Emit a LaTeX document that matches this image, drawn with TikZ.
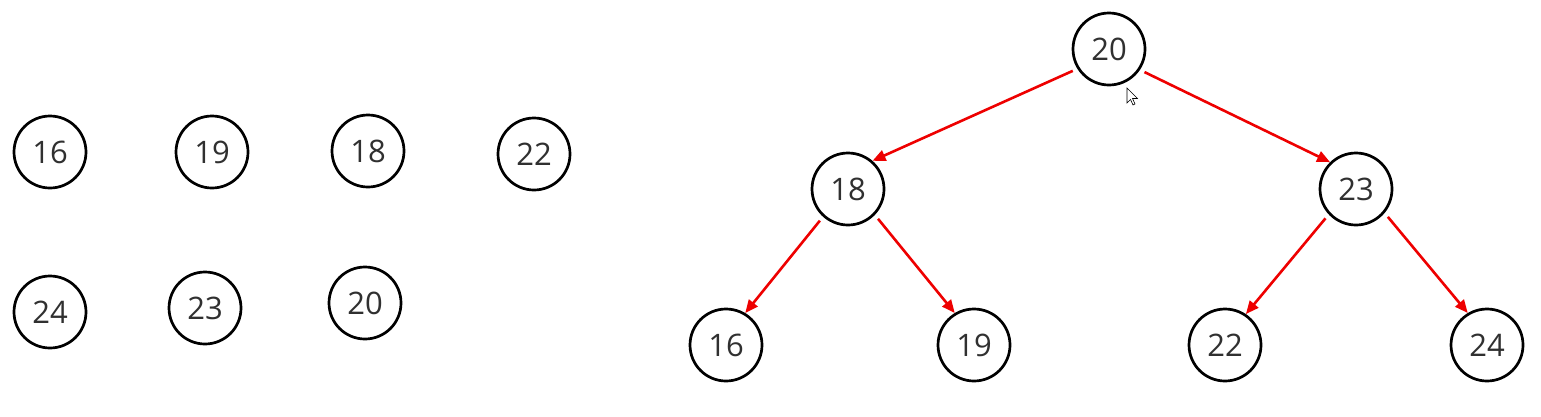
\documentclass[tikz,border=0pt]{standalone}
\usepackage{fontspec}
\setmainfont{Open Sans}
\usetikzlibrary{arrows.meta}
\definecolor{txt}{HTML}{303030}
\definecolor{edgered}{HTML}{EE0000}
\begin{document}
\begin{tikzpicture}[x=1pt,y=-1pt,
  keynode/.style={circle,draw=black,line width=2.7pt,minimum size=72pt,inner sep=0pt,
    text=txt,font=\fontsize{31}{31}\selectfont,fill=white},
  treeedge/.style={draw=edgered,line width=2.6pt,-{Triangle[length=13pt,width=11pt]},
    shorten <=5pt,shorten >=0pt}]
\useasboundingbox (0,0) rectangle (1541,416);
% scattered keys
\node[keynode] (a16) at (50,152) {16};
\node[keynode] (a19) at (212,152) {19};
\node[keynode] (a18) at (368,151) {18};
\node[keynode] (a22) at (534,154) {22};
\node[keynode] (a24) at (50,312) {24};
\node[keynode] (a23) at (205,308) {23};
\node[keynode] (a20) at (365,303) {20};
% tree
\node[keynode] (t20) at (1109,49) {20};
\node[keynode] (t18) at (848,189) {18};
\node[keynode] (t23) at (1356,189) {23};
\node[keynode] (t16) at (726,345) {16};
\node[keynode] (t19) at (974,345) {19};
\node[keynode] (t22) at (1225,345) {22};
\node[keynode] (t24) at (1487,345) {24};
\draw[treeedge] (t20.212) -- (t18.49);
\draw[treeedge] (t20.326) -- (t23.134);
\draw[treeedge] (t18.228) -- (t16.59);
\draw[treeedge] (t18.316) -- (t19.121);
\draw[treeedge] (t23.223) -- (t22.56);
\draw[treeedge] (t23.320) -- (t24.121);
% mouse cursor
\filldraw[fill=white,draw=black,line width=0.6pt,line join=miter]
  (1127,88) -- (1127,103) -- (1130.5,99.5) -- (1133,105) -- (1135,104) -- (1132.5,98.5) -- (1137.5,98.5) -- cycle;
\end{tikzpicture}
\end{document}
